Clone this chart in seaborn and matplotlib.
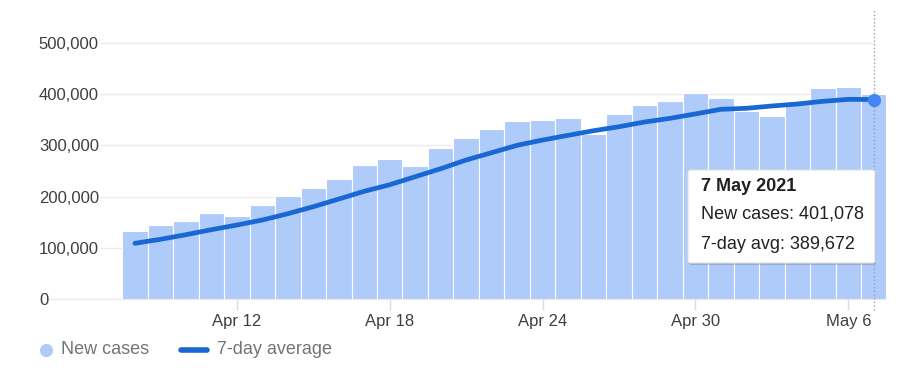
import numpy as np
import pandas as pd
import matplotlib
matplotlib.use("Agg")
import matplotlib.pyplot as plt
from matplotlib.lines import Line2D
from matplotlib.patches import FancyBboxPatch
import seaborn as sns

# daily new cases, 8 Apr - 7 May 2021
days = pd.date_range("2021-04-08", "2021-05-07", freq="D")
new_cases = [131968, 145384, 152879, 168912, 161736, 184372, 200739, 217353,
             234692, 261500, 273810, 259170, 295041, 314835, 332730, 346786,
             349691, 352991, 323144, 360960, 379257, 386452, 401993, 392488,
             368147, 357229, 382315, 412262, 414188, 401078]
avg_7day = [108800, 116600, 125600, 135400, 144500, 154300, 166600, 180300,
            195300, 210400, 223200, 238900, 254500, 271500, 285800, 300200,
            310500, 319700, 328700, 336500, 345700, 352900, 361500, 370500,
            372500, 377000, 380900, 386100, 390000, 389672]
tick_labels = ["Apr 12", "Apr 18", "Apr 24", "Apr 30", "May 6"]
y_ticks = [0, 100000, 200000, 300000, 400000, 500000]

BAR_COLOR = "#aecbfa"
LINE_COLOR = "#1967d2"
DOT_COLOR = "#4285f4"
TEXT_COLOR = "#3c4043"
LEGEND_COLOR = "#70757a"
GRID_COLOR = "#ebebeb"

W, H = 912, 375
sns.set_theme(style="white")
plt.rcParams["font.family"] = ["Liberation Sans", "DejaVu Sans"]

fig = plt.figure(figsize=(W / 100, H / 100), dpi=100)
ax = fig.add_axes([100 / W, (H - 299) / H, 786.5 / W, 289 / H])

df = pd.DataFrame({"idx": np.arange(len(days)), "cases": new_cases, "avg": avg_7day})

sns.barplot(data=df, x="idx", y="cases", color=BAR_COLOR, saturation=1,
            width=1.0, edgecolor="white", linewidth=0.8, ax=ax, zorder=2)
sns.lineplot(data=df, x="idx", y="avg", color=LINE_COLOR, linewidth=3.4,
             ax=ax, zorder=3)

last = len(days) - 1
ax.plot([last], [avg_7day[-1]], marker="o", markersize=8.5, color=DOT_COLOR,
        zorder=5)
ax.axvline(last, ymin=-11 / 289, ymax=1, color="#9aa0a6", linestyle=":",
           linewidth=1, clip_on=False, zorder=4)

x_left = (100 - 135) / 25.48
ax.set_xlim(x_left, last + 0.5)
ax.set_ylim(0, 564500)

# gridlines
for v in y_ticks[1:]:
    ax.hlines(v, x_left, last, color=GRID_COLOR, linewidth=1, zorder=0)
ax.hlines(0, (49 - 135) / 25.48, last + 0.5, color=GRID_COLOR, linewidth=1,
          zorder=1, clip_on=False)

ax.set_yticks(y_ticks)
ax.set_yticklabels([f"{v:,}" for v in y_ticks])
ax.tick_params(axis="y", length=0, pad=44, labelsize=12, labelcolor=TEXT_COLOR)
for lab in ax.get_yticklabels():
    lab.set_horizontalalignment("left")

day_names = [d.strftime("%b %-d") for d in days]
ax.set_xticks([day_names.index(t) for t in tick_labels])
ax.set_xticklabels(tick_labels)
ax.tick_params(axis="x", length=8, width=1, color="#dadce0", pad=3,
               labelsize=12, labelcolor=TEXT_COLOR, bottom=True)
ax.set_xlabel("")
ax.set_ylabel("")
sns.despine(ax=ax, left=True, bottom=True)

# legend
ly = 1 - 350 / H
fig.add_artist(Line2D([46 / W], [ly], marker="o", markersize=8.5,
                      color=BAR_COLOR, linestyle="none"))
fig.text(61 / W, ly, "New cases", fontsize=13, color=LEGEND_COLOR, va="center")
fig.add_artist(Line2D([181 / W, 207 / W], [ly, ly], color=LINE_COLOR,
                      linewidth=4, solid_capstyle="round"))
fig.text(217 / W, ly, "7-day average", fontsize=13, color=LEGEND_COLOR,
         va="center")

# tooltip
bx0, by0, bx1, by1 = 688, 170, 875, 263
shadow = FancyBboxPatch(((bx0 + 1) / W, 1 - (by1 + 2) / H), (bx1 - bx0) / W,
                        (by1 - by0) / H, boxstyle="round,pad=0,rounding_size=0.004",
                        transform=fig.transFigure, facecolor="#000000",
                        alpha=0.15, edgecolor="none", zorder=10)
box = FancyBboxPatch((bx0 / W, 1 - by1 / H), (bx1 - bx0) / W, (by1 - by0) / H,
                     boxstyle="round,pad=0,rounding_size=0.004",
                     transform=fig.transFigure, facecolor="white",
                     edgecolor="#e0e0e0", linewidth=0.8, zorder=11)
fig.add_artist(shadow)
fig.add_artist(box)
fig.text(701 / W, 1 - 186.5 / H, "7 May 2021", fontsize=13, fontweight="bold",
         color="#202124", va="center", zorder=12)
fig.text(701 / W, 1 - 214.5 / H, f"New cases: {new_cases[-1]:,}", fontsize=13,
         color="#202124", va="center", zorder=12)
fig.text(701 / W, 1 - 244.5 / H, f"7-day avg: {avg_7day[-1]:,}", fontsize=13,
         color="#202124", va="center", zorder=12)

fig.savefig("out.png", dpi=100, facecolor="white")
